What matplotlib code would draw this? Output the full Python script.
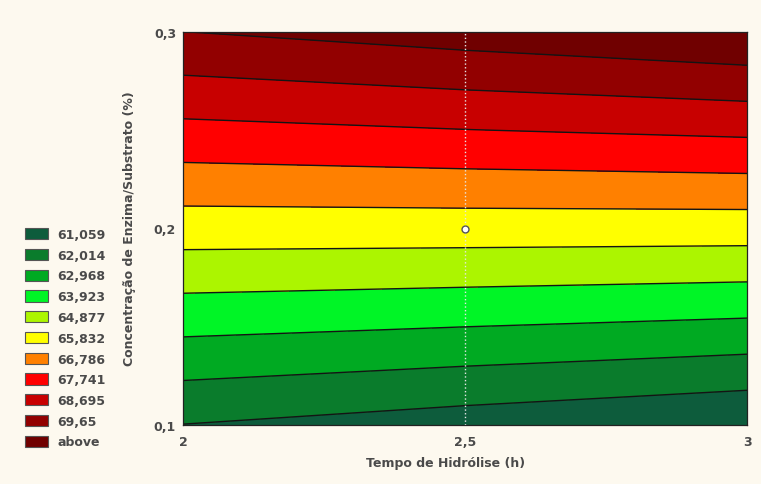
import numpy as np
import matplotlib
matplotlib.use('Agg')
import matplotlib.pyplot as plt
from matplotlib.patches import Patch

# Surface values (response at grid points)
tempo = [2.0, 2.5, 3.0]
conc = [0.10, 0.15, 0.20, 0.25, 0.30]
# rows = concentration, cols = tempo
resposta = [
    [61.04, 60.59, 60.14],
    [63.19, 62.97, 62.74],
    [65.34, 65.34, 65.33],
    [67.49, 67.72, 67.93],
    [69.64, 70.09, 70.53],
]

niveis = [61.059, 62.014, 62.968, 63.923, 64.877, 65.832,
          66.786, 67.741, 68.695, 69.65]
legenda = ['61,059', '62,014', '62,968', '63,923', '64,877', '65,832',
           '66,786', '67,741', '68,695', '69,65', 'above']
cores = ['#0d5c3c', '#0a7c2c', '#00aa22', '#00f526', '#acf500', '#ffff00',
         '#ff8000', '#ff0000', '#c80000', '#920000', '#700000']

xticks = [2, 2.5, 3]
xticklabels = ['2', '2,5', '3']
yticks = [0.1, 0.2, 0.3]
yticklabels = ['0,1', '0,2', '0,3']

bg = '#fdf9ef'
txt = '#4a4a4a'

fig = plt.figure(figsize=(7.61, 4.85), dpi=100, facecolor=bg)
ax = fig.add_axes([183/761, 1 - 426/485, 564/761, 393/485])

X, Y = np.meshgrid(tempo, conc)
Z = np.array(resposta)
lv = [Z.min() - 1] + niveis + [Z.max() + 1]
ax.contourf(X, Y, Z, levels=lv, colors=cores)
ax.contour(X, Y, Z, levels=niveis, colors='#141414', linewidths=1.0)

ax.axvline(2.5, color='#e6e6e6', ls=':', lw=1)
ax.plot([2.5], [0.2], 'o', ms=5, mfc='white', mec='#555555', mew=1)

ax.set_xlim(2, 3)
ax.set_ylim(0.1, 0.3)
ax.set_xticks(xticks)
ax.set_xticklabels(xticklabels)
ax.set_yticks(yticks)
ax.set_yticklabels(yticklabels)
ax.tick_params(axis='x', length=0, pad=7, labelsize=9, labelcolor=txt)
ax.tick_params(axis='y', length=0, pad=5, labelsize=9, labelcolor=txt)
for lab in ax.get_xticklabels() + ax.get_yticklabels():
    lab.set_fontweight('bold')
for s in ax.spines.values():
    s.set_color('#222222')
    s.set_linewidth(0.9)

ax.set_xlabel('Tempo de Hidrólise (h)', fontsize=9, fontweight='bold', color=txt)
ax.set_ylabel('Concentração de Enzima/Substrato (%)', fontsize=9,
              fontweight='bold', color=txt)
ax.xaxis.set_label_coords(0.466, -0.079)
ax.yaxis.set_label_coords(-0.084, 0.501)

handles = [Patch(facecolor=c, edgecolor='#555555', lw=0.8) for c in cores]
leg = fig.legend(handles, legenda, loc='upper left',
                 bbox_to_anchor=(25/761, 1 - 229/485), frameon=False,
                 fontsize=9, handlelength=1.85, handleheight=1.0,
                 labelspacing=0.62, handletextpad=0.72, borderpad=0,
                 borderaxespad=0)
for t in leg.get_texts():
    t.set_color(txt)
    t.set_fontweight('bold')

fig.savefig('out.png', dpi=100, facecolor=bg)
